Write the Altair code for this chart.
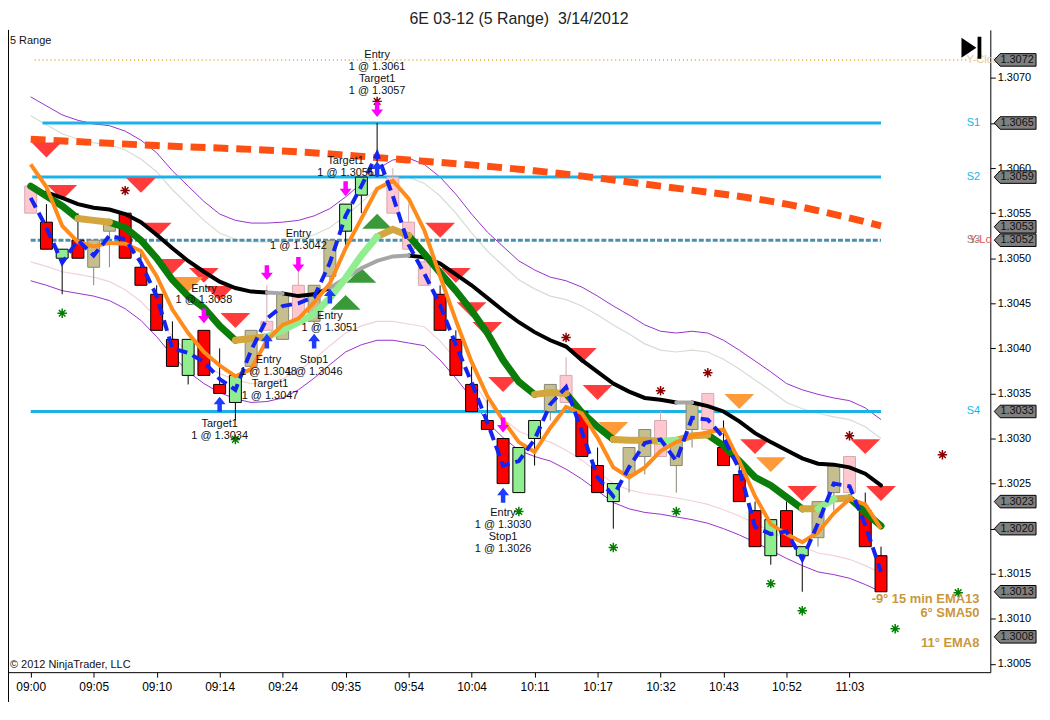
import altair as alt
import pandas as pd

# ---------------- data (prices in pips above 1.3000) ----------------
BASE = 1.3000
PIP = 0.0001

time_labels = ["09:00", "09:05", "09:10", "09:14", "09:24", "09:35", "09:54",
               "10:04", "10:11", "10:17", "10:32", "10:43", "10:52", "11:03"]
tick_bars = [0, 4, 8, 12, 16, 20, 24, 28, 32, 36, 40, 44, 48, 52]
price_ticks = [1.3005, 1.3010, 1.3015, 1.3020, 1.3025, 1.3030, 1.3035,
               1.3040, 1.3045, 1.3050, 1.3055, 1.3060, 1.3065, 1.3070]

opens = [58, 54, 50, 52, 49, 53, 55, 49, 46, 41, 37, 42, 36, 34, 38, 43, 41, 47, 43, 48,
         53, 57, 59.2, 59, 54, 49.6, 46, 41, 36, 32, 30, 24, 30, 33, 37, 33, 27, 23, 26, 28,
         32, 27, 31, 35, 29, 26, 22, 17, 22, 17, 19, 24, 28, 22, 17]
highs = [58, 56, 51, 55, 52, 54, 55, 51, 47, 43, 41, 42, 40, 37, 42, 47, 46, 49, 47, 52,
         56, 59, 65, 60, 56, 51, 47, 42, 38, 35, 30, 29, 32, 36, 39, 33, 29, 25, 29, 31,
         33, 30, 34, 35, 32, 27, 23, 21, 23, 18, 23, 27, 28, 24, 18]
lows = [55, 51, 46, 50, 47, 49, 50, 47, 42, 38, 36, 37, 35, 32, 37, 42, 41, 43, 42, 46,
        51, 55, 59, 55, 51, 47, 42, 37, 33, 31, 25, 24, 27, 32, 34, 28, 24, 20, 24, 26,
        28, 24, 29, 31, 27, 23, 18, 16, 18, 13, 18, 22, 24, 18, 13]
closes = [55, 51, 51, 50, 52, 54, 50, 47, 42, 38, 41, 37, 35, 37, 42, 42, 46, 43, 47, 52,
          56, 59, 60, 55, 51, 47, 42, 37, 33, 31, 25, 29, 32, 36, 34, 28, 24, 25, 29, 31,
          28, 30, 34, 31, 27, 23, 18, 21, 18, 18, 23, 27, 24, 18, 13]
kinds = ["pink", "red", "green", "red", "tan", "tan", "red", "red", "red", "red",
         "green", "red", "red", "green", "tan", "pink", "tan", "pink", "tan", "tan",
         "green", "green", "hollow", "pink", "pink", "pink", "red", "red", "red", "red",
         "red", "green", "green", "tan", "pink", "red", "red", "green", "tan", "tan",
         "pink", "tan", "tan", "pink", "red", "red", "red", "green", "red", "green",
         "tan", "tan", "pink", "red", "red"]

black_ma = [57.3, 56.7, 56.0, 55.6, 55.4, 54.9, 54.0, 52.6, 51.1, 49.7, 48.5, 47.4, 46.7, 46.3,
            46.2, 46.1, 45.8, 46.0, 46.7, 47.8, 48.9, 49.7, 50.2, 50.3, 50.1, 49.4, 48.2, 47.0,
            45.6, 44.2, 42.9, 41.8, 40.9, 40.2, 38.7, 37.4, 36.1, 35.2, 34.5, 34.3, 34.0, 34.0,
            33.6, 33.0, 31.9, 30.6, 29.6, 28.7, 27.8, 27.2, 27.1, 26.8, 26.1, 24.8]  # bars 1..54
black_state = ("dddddddddddddd" + "u" + "ddd" + "uuuuu" + "ddddddddddddddddd" + "u" + "dddddddddddd")

green_ma = [58.0, 56.9, 55.8, 54.4, 54.2, 54.0, 53.4, 52.0, 50.0, 47.6,
            45.8, 44.5, 42.5, 40.9, 41.1, 41.3, 42.0, 42.9, 43.8, 45.6,
            47.8, 50.3, 52.4, 53.2, 52.5, 50.5, 48.4, 46.4, 44.2, 41.7,
            38.7, 36.3, 34.9, 35.1, 35.0, 32.9, 31.3, 29.9, 29.8, 29.8,
            29.7, 29.8, 30.3, 30.4, 29.2, 27.5, 25.7, 24.8, 23.5, 22.2,
            22.2, 23.3, 23.4, 21.8, 20.3]
green_state = ("GGG" + "TT" + "GGGGGGGG" + "TT" + "LLLLLLL" + "TT" + "GGGGGGGG" + "TT" + "GGG"
               + "TTT" + "L" + "TT" + "GGGGGG" + "T" + "L" + "T" + "GG")

orange_ma = [60.4, 57.9, 53.6, 51.8, 51.3, 51.7, 51.6, 50.8, 48.0, 44.3,
             41.7, 39.6, 38.1, 36.9, 37.7, 40.9, 42.6, 43.3, 45.1, 47.2,
             51.1, 54.4, 57.7, 58.6, 56.6, 53.1, 48.0, 43.1, 38.5, 34.7,
             32.0, 29.6, 28.5, 31.2, 33.5, 32.8, 30.1, 26.8, 25.7, 26.8,
             28.6, 29.6, 30.3, 30.7, 31.0, 27.5, 23.6, 20.5, 19.4, 18.5,
             19.6, 21.7, 23.3, 22.7, 20.0]
blue_ma = [56.7, 53.4, 49.5, 52.0, 50.3, 52.5, 52.1, 49.5, 45.8, 40.0,
           39.5, 38.5, 36.6, 35.4, 39.8, 43.3, 44.7, 45.0, 45.7, 49.5,
           54.7, 58.0, 61.6, 56.9, 51.5, 48.3, 44.8, 40.4, 36.2, 31.8,
           27.0, 27.5, 29.9, 33.8, 35.7, 30.8, 25.7, 23.6, 26.8, 29.5,
           29.9, 27.5, 32.3, 32.1, 30.1, 26.6, 20.2, 19.4, 19.7, 16.6,
           20.6, 25.0, 24.7, 20.4, 15.2]
upper_outer = [67.9, 66.9, 65.9, 65.3, 64.9, 64.7, 64.1, 63.1, 61.7, 59.7,
               58.0, 56.3, 54.9, 54.2, 53.9, 53.9, 54.0, 54.2, 54.7, 55.5,
               56.8, 58.3, 59.9, 60.9, 61.1, 60.4, 59.0, 57.1, 54.9, 52.9,
               51.3, 49.7, 48.7, 47.9, 47.5, 46.8, 45.8, 44.7, 43.7, 42.6,
               41.9, 41.7, 41.9, 41.7, 40.9, 39.8, 38.6, 37.4, 36.1, 35.4,
               34.9, 34.5, 34.2, 33.4, 32.1]
lower_outer = [47.5, 47.0, 46.4, 46.1, 45.8, 45.3, 44.4, 43.1, 41.3, 39.2,
               37.4, 36.1, 35.1, 34.4, 34.0, 34.1, 34.5, 35.4, 36.7, 38.2,
               39.6, 40.4, 40.9, 40.9, 40.6, 40.3, 38.7, 36.7, 34.5, 31.8,
               30.1, 28.7, 28.0, 27.5, 26.6, 25.5, 24.2, 22.9, 22.2, 21.8,
               21.6, 21.3, 21.0, 20.6, 20.0, 19.3, 18.5, 17.6, 16.7, 15.9,
               15.2, 14.9, 14.5, 13.8, 13.0]
upper_inner = [65.8, 64.8, 63.8, 63.2, 62.8, 62.6, 62.0, 61.0, 59.6, 57.6,
               55.9, 54.2, 52.8, 52.1, 51.8, 51.8, 51.9, 52.1, 52.6, 53.4,
               54.7, 56.2, 57.8, 58.8, 59.0, 58.3, 56.9, 55.0, 52.8, 50.8,
               49.2, 47.6, 46.6, 45.8, 45.4, 44.7, 43.7, 42.6, 41.6, 40.5,
               39.8, 39.6, 39.8, 39.6, 38.8, 37.7, 36.5, 35.3, 34.0, 33.3,
               32.8, 32.4, 32.1, 31.3, 30.0]
lower_inner = [49.6, 49.1, 48.5, 48.2, 47.9, 47.4, 46.5, 45.2, 43.4, 41.3,
               39.5, 38.2, 37.2, 36.5, 36.1, 36.2, 36.6, 37.5, 38.8, 40.3,
               41.7, 42.5, 43.0, 43.0, 42.7, 42.4, 40.8, 38.8, 36.6, 33.9,
               32.2, 30.8, 30.1, 29.6, 28.7, 27.6, 26.3, 25.0, 24.3, 23.9,
               23.7, 23.4, 23.1, 22.7, 22.1, 21.4, 20.6, 19.7, 18.8, 18.0,
               17.3, 17.0, 16.6, 15.9, 15.1]

daily_bars = [0, 8, 16, 24, 32, 40, 48, 54]
daily_ma = [63.2, 62.5, 61.9, 60.9, 59.7, 58.0, 56.0, 53.6]

level_names = ["Y-Close", "S1", "S2", "S3", "S4"]
level_prices = [1.3072, 1.3065, 1.3059, 1.3052, 1.3033]
level_from = [0.25, 0.75, 0.1, 0.0, 0.0]
level_to = [59.5, 54, 54, 54, 54]

red_tri_bars = [1, 2, 7, 8, 9, 11, 12, 13, 26, 27, 28, 29, 30, 35, 36, 46, 49, 53, 54]
red_tri_pips = [62.0, 57.3, 58.1, 53.1, 49.1, 48.1, 46.1, 43.1, 53.1, 48.1, 44.3, 42.1, 36.0,
                39.2, 35.1, 29.1, 23.9, 29.1, 23.9]
orange_tri_bars = [10, 37, 45, 47]
orange_tri_pips = [47.1, 31.0, 34.1, 27.1]
green_tri_bars = [20, 21, 22]
green_tri_pips = [45.1, 48.1, 54.1]

dred_star_bars = [6, 22, 34, 40, 43, 52, 57.9]
dred_star_pips = [57.5, 67.4, 41.2, 35.3, 37.3, 30.3, 28.2]
green_star_bars = [2, 13, 31, 37, 41, 47, 49, 54.9, 58.9]
green_star_pips = [43.9, 29.9, 21.9, 17.9, 21.9, 13.9, 10.9, 8.9, 12.9]

sell_arrow_bars = [22, 20, 15, 17, 11, 30]
sell_arrow_pips = [66.5, 57.7, 48.4, 49.3, 43.6, 31.5]
buy_arrow_bars = [12, 15, 18, 19, 22, 30]
buy_arrow_pips = [33.8, 40.8, 40.8, 45.8, 59.9, 23.7]

note_bars = [22, 20, 17, 11, 19, 15.1, 18, 15.2, 12, 30]
note_pips = [73.2, 61.4, 53.3, 47.3, 44.2, 39.4, 39.4, 36.7, 32.3, 22.4]
note_texts = ["Entry\n1 @ 1.3061\nTarget1\n1 @ 1.3057", "Target1\n1 @ 1.3055",
              "Entry\n1 @ 1.3042", "Entry\n1 @ 1.3038", "Entry\n1 @ 1.3051",
              "Entry\n1 @ 1.3048", "Stop1\n1 @ 1.3046", "Target1\n1 @ 1.3047",
              "Target1\n1 @ 1.3034", "Entry\n1 @ 1.3030\nStop1\n1 @ 1.3026"]

box_prices = [1.3072, 1.3065, 1.3059, 1.3053, 1.3052, 1.3033, 1.3023, 1.3020, 1.3013, 1.3008]

legend_lines = ["-9° 15 min EMA13", "6° SMA50", "11° EMA8"]

# ---------------- helpers ----------------
def pr(p):
    return round(BASE + p * PIP, 6)

W, H = 988, 646
XDOM = [-1.125, 60.625]
YDOM = [1.300408, 1.307533]
FONT = "Liberation Sans, Arial, sans-serif"
NARROW = "Liberation Sans Narrow, Liberation Sans, Arial, sans-serif"

# tick labels that sit completely under a price box are hidden (as in the reference)
covered = [t for t in price_ticks if any(abs(t - b) < 0.00003 for b in box_prices)]
hide_expr = " || ".join("abs(datum.value - %.4f) < 0.00002" % t for t in covered) or "false"

xs = alt.Scale(domain=XDOM, nice=False, zero=False)
ys = alt.Scale(domain=YDOM, nice=False, zero=False)
label_arr = "[" + ",".join("'%s'" % t for t in time_labels) + "]"
xaxis = alt.Axis(values=tick_bars, labelExpr=label_arr + "[round(datum.value/4)]",
                 title=None, grid=False, domainColor="black", tickColor="black",
                 tickSize=5, labelColor="black", labelFont=NARROW, labelFontSize=12,
                 labelPadding=4, labelFlush=False, labelOverlap=False, zindex=0)
yaxis = alt.Axis(orient="right", values=price_ticks, format=".4f", title=None, grid=False,
                 labelExpr="(" + hide_expr + ") ? '' : datum.label",
                 domainColor="black", tickColor="black", tickSize=5, labelColor="black",
                 labelFont=FONT, labelFontSize=11, labelPadding=2, labelOverlap=False,
                 labelFlush=False, zindex=0)


def X(f="x"):
    return alt.X(f + ":Q", scale=xs, axis=xaxis)


def Y(f="y"):
    return alt.Y(f + ":Q", scale=ys, axis=yaxis)


def series_df(xv, yv):
    return pd.DataFrame({"x": list(xv), "y": [pr(v) for v in yv]})


def seg_df(xv, yv, states):
    rows = []
    run = 0
    for j, st in enumerate(states):
        if j > 0 and st != states[j - 1]:
            run += 1
        rows.append({"x": xv[j], "y": pr(yv[j]), "run": run, "state": st, "k": 2 * j})
        rows.append({"x": xv[j + 1], "y": pr(yv[j + 1]), "run": run, "state": st, "k": 2 * j + 1})
    return pd.DataFrame(rows)


def line(df, **mk):
    return alt.Chart(df).mark_line(**mk).encode(x=X(), y=Y(), detail="run:N", order="k:Q")


def simple_line(df, **mk):
    return alt.Chart(df).mark_line(**mk).encode(x=X(), y=Y())


one = pd.DataFrame({"a": [0]})

layers = []

# bands
nb = len(upper_outer)
bars_all = list(range(nb))
layers.append(simple_line(series_df(bars_all, upper_outer), color="#9A30CC", strokeWidth=1))
layers.append(simple_line(series_df(bars_all, lower_outer), color="#9A30CC", strokeWidth=1))
layers.append(simple_line(series_df(bars_all, upper_inner), color="#D5DDD3", strokeWidth=1.2))
layers.append(simple_line(series_df(bars_all, lower_inner), color="#F2D2DA", strokeWidth=1.2))

# horizontal levels
lev = pd.DataFrame({"name": level_names, "y": level_prices, "x": level_from, "x2": level_to})
layers.append(alt.Chart(lev[lev.name == "Y-Close"]).mark_rule(
    color="#DAA520", strokeWidth=1.5, strokeDash=[1, 3]).encode(x=X(), x2="x2:Q", y=Y()))
layers.append(alt.Chart(lev[lev.name.isin(["S1", "S2", "S4"])]).mark_rule(
    color="#1CB2E8", strokeWidth=3).encode(x=X(), x2="x2:Q", y=Y()))
layers.append(alt.Chart(lev[lev.name == "S3"]).mark_rule(
    color="#4E8FAE", strokeWidth=3, strokeDash=[5, 2]).encode(x=X(), x2="x2:Q", y=Y()))

# daily dashed MA
layers.append(simple_line(series_df(daily_bars, daily_ma), color="#FF5014", strokeWidth=7,
                          strokeDash=[15, 8], interpolate="monotone"))

# triangles
TRI_DOWN = "M -1 -0.5 L 1 -0.5 L 0 0.5 Z"
TRI_UP = "M -1 0.5 L 1 0.5 L 0 -0.5 Z"
for bx, by, shp, col in [(red_tri_bars, red_tri_pips, TRI_DOWN, "#FF3B3B"),
                         (orange_tri_bars, orange_tri_pips, TRI_DOWN, "#FF9A38"),
                         (green_tri_bars, green_tri_pips, TRI_UP, "#3A9A3A")]:
    layers.append(alt.Chart(series_df(bx, by)).mark_point(
        shape=shp, size=900, filled=True, color=col, opacity=1, strokeWidth=0).encode(x=X(), y=Y()))

# candles
cdf = pd.DataFrame({"x": list(range(len(opens))),
                    "o": [pr(v) for v in opens], "h": [pr(v) for v in highs],
                    "l": [pr(v) for v in lows], "c": [pr(v) for v in closes], "kind": kinds})
cdf["bot"] = cdf[["o", "c"]].min(axis=1)
cdf["top"] = cdf[["o", "c"]].max(axis=1)
kdom = ["red", "green", "tan", "pink", "hollow"]
fill_sc = alt.Scale(domain=kdom, range=["#FF0000", "#90EE90", "#C5BF8F", "#FFC8D0", "#FFFFFF"])
stroke_sc = alt.Scale(domain=kdom, range=["#000000", "#000000", "#858575", "#D4A8B0", "#000000"])
layers.append(alt.Chart(cdf).mark_rule(strokeWidth=1).encode(
    x=X(), y=Y("l"), y2="h:Q", stroke=alt.Stroke("kind:N", scale=stroke_sc, legend=None)))
layers.append(alt.Chart(cdf).mark_bar(size=12, strokeWidth=1).encode(
    x=X(), y=Y("bot"), y2="top:Q",
    fill=alt.Fill("kind:N", scale=fill_sc, legend=None),
    stroke=alt.Stroke("kind:N", scale=stroke_sc, legend=None)))

# black MA (with gray rising parts)
bdf = seg_df(list(range(1, 55)), black_ma, black_state)
layers.append(line(bdf[bdf.state == "d"], color="#000000", strokeWidth=4, strokeCap="round"))
layers.append(line(bdf[bdf.state == "u"], color="#A6A6A6", strokeWidth=4, strokeCap="round"))

# green MA
gdf = seg_df(list(range(55)), green_ma, green_state)
for st, col in [("G", "#0A7D0A"), ("T", "#D4A63E"), ("L", "#90EE90")]:
    layers.append(line(gdf[gdf.state == st], color=col, strokeWidth=7, strokeCap="round"))

# orange MA
layers.append(simple_line(series_df(range(55), orange_ma), color="#FF8C1A", strokeWidth=4))
# blue dashed
layers.append(simple_line(series_df(range(55), blue_ma), color="#1424F0", strokeWidth=4,
                          strokeDash=[11, 6]))

# asterisks
STAR = "M -1 0 L 1 0 M 0 -1 L 0 1 M -0.7 -0.7 L 0.7 0.7 M -0.7 0.7 L 0.7 -0.7"
for bx, by, col in [(dred_star_bars, dred_star_pips, "#8B0000"),
                    (green_star_bars, green_star_pips, "#008000")]:
    d = series_df(bx, by)
    layers.append(alt.Chart(d).mark_point(shape=STAR, size=90, filled=False, color=col,
                                          strokeWidth=1.5, opacity=1).encode(x=X(), y=Y()))
    layers.append(alt.Chart(d).mark_point(shape="circle", size=14, filled=True, color=col,
                                          opacity=1).encode(x=X(), y=Y()))

# arrows
ARROW_DOWN = "M -0.3 -1 L 0.3 -1 L 0.3 0 L 0.8 0 L 0 1 L -0.8 0 L -0.3 0 Z"
ARROW_UP = "M -0.3 1 L 0.3 1 L 0.3 0 L 0.8 0 L 0 -1 L -0.8 0 L -0.3 0 Z"
layers.append(alt.Chart(series_df(sell_arrow_bars, sell_arrow_pips)).mark_point(
    shape=ARROW_DOWN, size=225, filled=True, color="#FF00FF", opacity=1).encode(x=X(), y=Y()))
layers.append(alt.Chart(series_df(buy_arrow_bars, buy_arrow_pips)).mark_point(
    shape=ARROW_UP, size=225, filled=True, color="#1E3CFF", opacity=1).encode(x=X(), y=Y()))

# trade annotations
ndf = pd.DataFrame({"x": note_bars, "y": [pr(v) for v in note_pips], "t": note_texts})
layers.append(alt.Chart(ndf).mark_text(font=FONT, fontSize=11, color="#111111", align="center",
                                       baseline="top", lineBreak="\n", lineHeight=12).encode(
    x=X(), y=Y(), text="t:N"))

# right-side level labels
lab = pd.DataFrame({"t": ["Y-Close", "S1", "S2", "S3", "Y-Lo", "S4"],
                    "y": [1.3072, 1.3065, 1.3059, 1.3052, 1.3052, 1.3033]})
for t, col, al, xv in [("Y-Close", "#E8C890", "left", 964), ("S1", "#1CB2E8", "center", 971),
                       ("S2", "#1CB2E8", "center", 971), ("S3", "#7F8FA0", "center", 971),
                       ("Y-Lo", "#E05A5A", "left", 967), ("S4", "#1CB2E8", "center", 971)]:
    layers.append(alt.Chart(lab[lab.t == t]).mark_text(
        font=FONT, fontSize=11, color=col, align=al, baseline="middle").encode(
        x=alt.value(xv), y=Y(), text="t:N"))

# price boxes on the axis (nudged apart so they do not overlap)
px_per_price = H / (YDOM[1] - YDOM[0])
gap = 13.5 / px_per_price
disp = []
prev = None
for p in sorted(box_prices):
    d = p if prev is None else max(p, prev + gap)
    disp.append((p, d))
    prev = d
bxdf = pd.DataFrame({"t": ["%.4f" % p for p, _ in disp], "y": [d for _, d in disp]})
BOX = "M -1 0 L -0.72 -0.3 L 1 -0.3 L 1 0.3 L -0.72 0.3 Z"
layers.append(alt.Chart(bxdf).mark_point(shape=BOX, size=1764, filled=True, fill="#808080",
                                         stroke="#000000", strokeWidth=1, opacity=1).encode(
    x=alt.value(1013), y=Y()))
layers.append(alt.Chart(bxdf).mark_text(font=FONT, fontSize=11, color="#111111", align="center",
                                        baseline="middle").encode(
    x=alt.value(1015), y=Y(), text="t:N"))

# bottom-right legend texts
for t, yv in zip(legend_lines, [572, 587, 617]):
    layers.append(alt.Chart(pd.DataFrame({"t": [t]})).mark_text(
        font=FONT, fontSize=13, fontWeight="bold", color="#C9973E", align="right",
        baseline="middle").encode(x=alt.value(977), y=alt.value(yv), text="t:N"))

# title and corner texts
layers.append(alt.Chart(pd.DataFrame({"t": ["6E 03-12 (5 Range)\u00a0 3/14/2012"]})).mark_text(
    font=FONT, fontSize=16, color="#222222", align="center", baseline="middle").encode(
    x=alt.value(514), y=alt.value(-11), text="t:N"))
layers.append(alt.Chart(pd.DataFrame({"t": ["5 Range"]})).mark_text(
    font=FONT, fontSize=11, color="#111111", align="left", baseline="middle").encode(
    x=alt.value(2), y=alt.value(11), text="t:N"))
layers.append(alt.Chart(pd.DataFrame({"t": ["© 2012 NinjaTrader, LLC"]})).mark_text(
    font=NARROW, fontSize=11, color="#111111", align="left", baseline="middle").encode(
    x=alt.value(2), y=alt.value(639), text="t:N"))

# play-to-end icon
ICON = "M -1 -1 L 0.5 0 L -1 1 Z M 0.62 -1.1 L 1 -1.1 L 1 1.1 L 0.62 1.1 Z"
layers.append(alt.Chart(one).mark_point(shape=ICON, size=400, filled=True, color="#000000",
                                        opacity=1).encode(x=alt.value(969), y=alt.value(18)))

# left border
layers.append(alt.Chart(one).mark_rule(color="#000000", strokeWidth=1).encode(
    x=alt.value(0.5), y=alt.value(0), y2=alt.value(H + 30)))

chart = alt.layer(*layers).properties(
    width=W, height=H,
    padding={"left": 0, "top": 20, "right": 52, "bottom": 30},
    autosize=alt.AutoSizeParams(type="none"),
    background="white",
).configure_view(strokeWidth=0)

chart.save("out.html", embed_options={"renderer": "svg", "actions": False})
